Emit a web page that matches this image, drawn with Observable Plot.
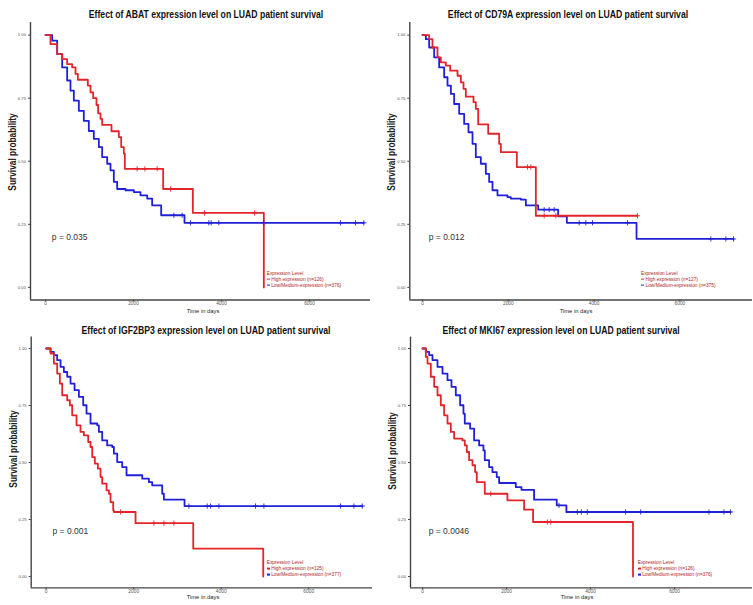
<!DOCTYPE html>
<html><head><meta charset="utf-8">
<script src="https://cdn.jsdelivr.net/npm/d3@7"></script>
<script src="https://cdn.jsdelivr.net/npm/@observablehq/plot@0.6"></script>
<style>
body{margin:0;background:#fff;}
#root{position:relative;width:753px;height:605px;overflow:hidden;background:#fff;font-family:"Liberation Sans",Arial,sans-serif;}
.abs{position:absolute;white-space:nowrap;line-height:1;}
.title{font-family:"Liberation Sans",Arial,sans-serif;font-weight:bold;font-size:10.5px;color:#111;transform:translate(-50%,-50%);}
.ylab{font-family:"Liberation Sans",Arial,sans-serif;font-weight:bold;font-size:10.5px;color:#222;transform:translate(-50%,-50%) rotate(-90deg);}
.xlab{font-size:5.8px;color:#222;transform:translate(-50%,-50%);}
.leg{font-size:4.8px;color:#b01c1c;transform:translate(0,-50%);}
.key{display:inline-block;width:3px;height:1.2px;vertical-align:middle;margin-right:1.5px;}
</style></head>
<body><div id="root"></div>
<script>
// ---- data (days, survival probability) ----
const xTicks = [0, 2000, 4000, 6000];
const yTicks = [0, 0.25, 0.5, 0.75, 1];
const groupLabels = ["High expression", "Low/Medium-expression"];

const abatHighDays = [0,114,265,379,492,606,682,735,962,1023,1083,1159,1197,1250,1288,1500,1667,1720,1780,1803,2674,3349,4962];
const abatHighSurv = [1,0.964,0.925,0.905,0.885,0.872,0.846,0.823,0.80,0.773,0.75,0.723,0.69,0.668,0.644,0.619,0.596,0.556,0.53,0.47,0.39,0.295,0];
const abatHighCens = [2083,2258,2538,2841,3614,4750];
const abatLowDays = [0,152,265,379,492,568,644,758,871,985,1098,1212,1288,1402,1477,1553,1629,1818,2008,2159,2311,2424,2629,3159,7235];
const abatLowSurv = [1,0.978,0.925,0.872,0.82,0.78,0.74,0.70,0.66,0.62,0.589,0.556,0.516,0.49,0.464,0.418,0.39,0.385,0.378,0.365,0.352,0.325,0.286,0.256,0.256];
const abatLowCens = [2917,3106,3295,3712,3765,3939,4962,6705,7045,7235];

const cd79aHighDays = [0,155,233,350,427,544,645,816,894,956,1010,1189,1243,1298,1531,1787,1826,2199,2642,5012];
const cd79aHighSurv = [1,0.984,0.951,0.912,0.892,0.879,0.859,0.839,0.813,0.787,0.756,0.734,0.708,0.646,0.609,0.569,0.536,0.477,0.284,0.284];
const cd79aHighCens = [2448,2525,2836,3108,5012];
const cd79aLowDays = [0,78,155,272,388,505,583,661,738,855,971,1072,1166,1243,1360,1476,1554,1632,1748,1981,2059,2292,2409,2696,3162,3365,4989,7250];
const cd79aLowSurv = [1,0.984,0.951,0.912,0.872,0.833,0.80,0.767,0.727,0.688,0.648,0.615,0.569,0.516,0.49,0.45,0.418,0.385,0.365,0.358,0.352,0.348,0.325,0.308,0.282,0.256,0.192,0.192];
const cd79aLowCens = [2836,2953,3069,3652,3807,3963,4779,6721,7071,7250];

const igf2bp3HighDays = [0,99,175,251,312,366,480,541,594,693,785,861,960,1013,1052,1112,1181,1242,1280,1379,1433,1471,1532,1547,2042,3361,4961];
const igf2bp3HighSurv = [1,0.978,0.934,0.89,0.846,0.795,0.773,0.751,0.707,0.663,0.634,0.619,0.59,0.568,0.524,0.495,0.473,0.436,0.407,0.378,0.363,0.326,0.29,0.283,0.234,0.122,0];
const igf2bp3HighCens = [1699,2461,2690,2918];
const igf2bp3LowDays = [0,99,175,251,328,404,480,556,648,747,846,922,1013,1166,1204,1280,1394,1509,1547,1623,1737,1836,2195,2347,2423,2652,2690,3162,7224];
const igf2bp3LowSurv = [1,0.985,0.971,0.949,0.919,0.897,0.876,0.846,0.817,0.788,0.751,0.714,0.671,0.663,0.634,0.597,0.575,0.568,0.539,0.502,0.48,0.444,0.429,0.414,0.40,0.363,0.337,0.309,0.309];
const igf2bp3LowCens = [3262,3681,3757,3947,4785,4976,6728,7033,7224];

const mki67HighDays = [0,79,119,198,278,357,436,515,595,674,753,952,1007,1055,1110,1190,1253,1293,1483,2022,2419,2633,5012];
const mki67HighSurv = [1,0.963,0.934,0.876,0.832,0.795,0.751,0.707,0.671,0.634,0.605,0.597,0.575,0.546,0.51,0.488,0.458,0.414,0.363,0.334,0.293,0.239,0];
const mki67HighCens = [1626,2974,3053];
const mki67LowDays = [0,79,159,238,357,476,595,690,793,896,975,1007,1134,1229,1348,1451,1483,1586,1665,1768,1824,2221,2356,2657,3196,3426,7336];
const mki67LowSurv = [1,0.985,0.971,0.949,0.919,0.89,0.861,0.832,0.795,0.751,0.714,0.671,0.649,0.597,0.575,0.553,0.51,0.48,0.458,0.436,0.41,0.392,0.38,0.337,0.312,0.283,0.283];
const mki67LowCens = [3251,3687,3783,3925,4837,5194,6820,7177,7336];

const genes = ["ABAT", "CD79A", "IGF2BP3", "MKI67"];
const pValues = ["p = 0.035", "p = 0.012", "p = 0.001", "p = 0.0046"];
const nHigh = [126, 127, 125, 126];
const nLow = [376, 375, 377, 376];

// ---- layout ----
const RED = "#e3242b", BLUE = "#2020d8";
const panels = [
  {gene:0, hi:[abatHighDays,abatHighSurv,abatHighCens], lo:[abatLowDays,abatLowSurv,abatLowCens],
   left:0, top:0, w:376, h:318, mL:30, mR:6, mT:22, mB:18.5, x0:45, pxPer2000:88,
   title:[206,13.5,234], ylab:[12,152], xlab:[203,311.5], leg:[266.7,274]},
  {gene:1, hi:[cd79aHighDays,cd79aHighSurv,cd79aHighCens], lo:[cd79aLowDays,cd79aLowSurv,cd79aLowCens],
   left:376, top:0, w:377, h:318, mL:33.3, mR:1, mT:22, mB:18.5, x0:422-376, pxPer2000:85.8,
   title:[567.5,13.5,240], ylab:[391,152], xlab:[576,311.5], leg:[641,274]},
  {gene:2, hi:[igf2bp3HighDays,igf2bp3HighSurv,igf2bp3HighCens], lo:[igf2bp3LowDays,igf2bp3LowSurv,igf2bp3LowCens],
   left:0, top:300, w:376, h:305, mL:30.7, mR:4, mT:36.6, mB:17.6, x0:45.7, pxPer2000:87.5,
   title:[206.3,329.5,249], ylab:[13,449], xlab:[203,597.5], leg:[266.7,563.3]},
  {gene:3, hi:[mki67HighDays,mki67HighSurv,mki67HighCens], lo:[mki67LowDays,mki67LowSurv,mki67LowCens],
   left:376, top:300, w:377, h:305, mL:34, mR:1, mT:36.6, mB:17.6, x0:422-376, pxPer2000:84,
   title:[561.3,329.5,237], ylab:[392,451], xlab:[577,597.5], leg:[637.7,563.3]}
];
const yLabelLength = 77;

const root = document.getElementById("root");
function addDiv(cls, html, x, y) {
  const d = document.createElement("div");
  d.className = "abs " + cls;
  d.innerHTML = html;
  d.style.left = x + "px"; d.style.top = y + "px";
  root.appendChild(d);
  return d;
}
function toRows(days, surv) { return days.map((d, i) => ({day: d, surv: surv[i]})); }
function stepAt(days, surv, t) { let s = surv[0]; for (let i = 0; i < days.length; i++) if (days[i] <= t) s = surv[i]; return s; }

panels.forEach(p => {
  const g = p.gene;
  const frameL = p.mL, frameR = p.w - p.mR;
  const xDomain = [(frameL - p.x0) / p.pxPer2000 * 2000, (frameR - p.x0) / p.pxPer2000 * 2000];
  const yDomain = [-0.05, 1.05];
  const hiRows = toRows(p.hi[0], p.hi[1]);
  const loRows = toRows(p.lo[0], p.lo[1]);
  const hiC = p.hi[2].map(t => ({day: t, surv: stepAt(p.hi[0], p.hi[1], t)}));
  const loC = p.lo[2].map(t => ({day: t, surv: stepAt(p.lo[0], p.lo[1], t)}));
  const maxT = Math.max(d3.max(p.hi[0]), d3.max(p.lo[0]));
  const svg = Plot.plot({
    width: p.w, height: p.h,
    marginLeft: p.mL, marginRight: p.mR, marginTop: p.mT, marginBottom: p.mB,
    x: {domain: xDomain},
    y: {domain: yDomain},
    style: {fontFamily: "Liberation Sans, Arial, sans-serif", background: "transparent", overflow: "visible"},
    marks: [
      Plot.axisX({ticks: xTicks, tickFormat: d => String(d), tickSize: 2, tickPadding: 0, fontSize: 4.8, fill: "#555", stroke: "#444", label: null}),
      Plot.axisY({ticks: yTicks, tickFormat: d3.format(".2f"), tickSize: 2, tickPadding: 2.5, fontSize: 4.2, fill: "#555", stroke: "#444", label: null}),
      Plot.ruleX([xDomain[0]], {stroke: "#444", strokeWidth: 1.4}),
      Plot.ruleY([yDomain[0]], {stroke: "#444", strokeWidth: 1.4}),
      Plot.line(loRows, {x: "day", y: "surv", curve: "step-after", stroke: BLUE, strokeWidth: 1.8}),
      Plot.line(hiRows, {x: "day", y: "surv", curve: "step-after", stroke: RED, strokeWidth: 1.8}),
      Plot.dot(loC, {x: "day", y: "surv", symbol: "plus", r: 1.8, stroke: BLUE, strokeWidth: 0.9}),
      Plot.dot(hiC, {x: "day", y: "surv", symbol: "plus", r: 1.8, stroke: RED, strokeWidth: 0.9}),
      Plot.text([pValues[g]], {x: maxT / 50, y: 0.2, text: d => d, textAnchor: "start", fontSize: 8.5, fill: "#333"})
    ]
  });
  svg.style.position = "absolute";
  svg.style.left = p.left + "px";
  svg.style.top = p.top + "px";
  root.appendChild(svg);

  const t = addDiv("title", `Effect of ${genes[g]} expression level on LUAD patient survival`, p.title[0], p.title[1]);
  t.style.transform = `translate(-50%,-50%) scaleX(${p.title[2] / t.offsetWidth})`;
  const yl = addDiv("ylab", "Survival probability", p.ylab[0], p.ylab[1]);
  yl.style.transform = `translate(-50%,-50%) rotate(-90deg) scaleX(${yLabelLength / yl.offsetWidth})`;
  addDiv("xlab", "Time in days", p.xlab[0], p.xlab[1]);
  addDiv("leg", "Expression Level", p.leg[0], p.leg[1]);
  addDiv("leg", `<span class="key" style="background:${RED}"></span>${groupLabels[0]} (n=${nHigh[g]})`, p.leg[0], p.leg[1] + 6);
  addDiv("leg", `<span class="key" style="background:${BLUE}"></span>${groupLabels[1]} (n=${nLow[g]})`, p.leg[0], p.leg[1] + 12);
});
</script></body></html>
